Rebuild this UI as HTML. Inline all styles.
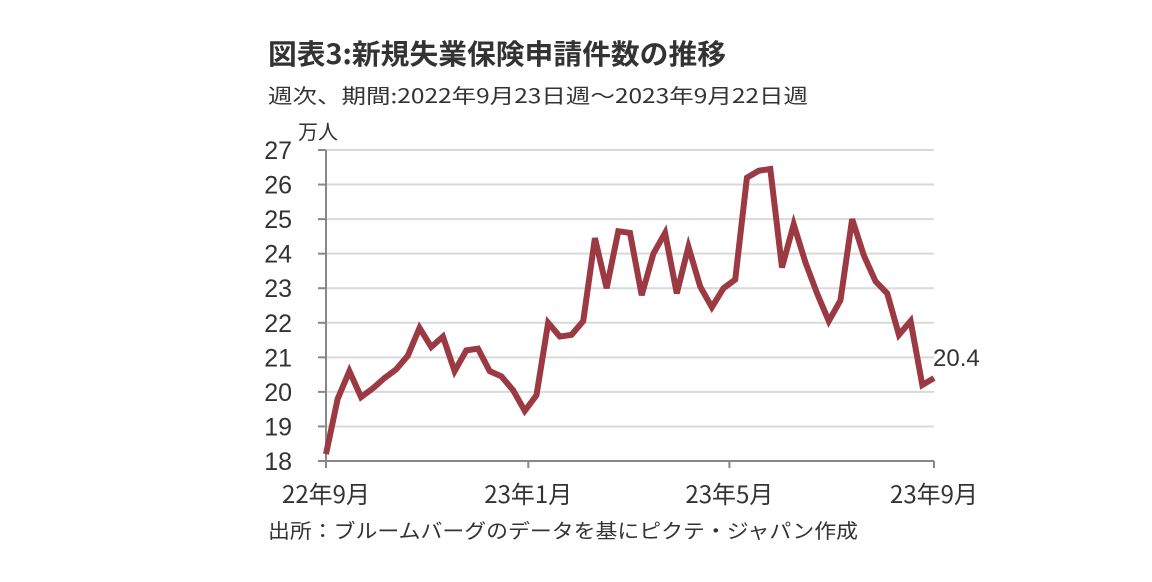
<!DOCTYPE html>
<html><head><meta charset="utf-8"><style>
body{margin:0;background:#fff;width:1152px;height:577px;overflow:hidden}
svg text{font-family:"Liberation Sans Narrow","Liberation Sans","Noto Sans CJK JP",sans-serif;fill:#333}
</style></head><body>
<svg width="1152" height="577" id="c">
<text x="268" y="64" font-size="28" font-weight="bold" textLength="458" lengthAdjust="spacingAndGlyphs" style="font-family:'Noto Sans CJK JP',sans-serif">図表3:新規失業保険申請件数の推移</text>
<text x="268" y="103" font-size="20" textLength="540" lengthAdjust="spacingAndGlyphs" style="font-family:'Noto Sans CJK JP',sans-serif">週次、期間:2022年9月23日週～2023年9月22日週</text>
<text x="298" y="139" font-size="20" style="font-family:'Noto Sans CJK JP',sans-serif">万人</text>
<g id="grid"></g><g id="yl"></g><g id="xl"></g>
<line x1="326" y1="150" x2="326" y2="468" stroke="#888" stroke-width="2"/>
<line x1="318" y1="461" x2="934" y2="461" stroke="#888" stroke-width="2"/>
<polyline id="line" fill="none" stroke="#9b3a42" stroke-width="6" stroke-linejoin="miter"/>
<text id="lastlbl" font-size="24"></text>
<text x="268" y="538" font-size="20" textLength="590" lengthAdjust="spacingAndGlyphs" style="font-family:'Noto Sans CJK JP',sans-serif">出所：ブルームバーグのデータを基にピクテ・ジャパン作成</text>
</svg>
<script>
const values=[18.2,19.8,20.6,19.85,20.1,20.4,20.65,21.05,21.85,21.3,21.6,20.6,21.2,21.25,20.6,20.45,20.05,19.45,19.9,22.0,21.6,21.65,22.05,24.45,23.0,24.65,24.6,22.8,24.0,24.6,22.85,24.2,23.05,22.45,23.0,23.25,26.2,26.4,26.45,23.6,24.85,23.75,22.85,22.05,22.65,25.0,23.95,23.2,22.85,21.65,22.05,20.2,20.4];
const yTicks=[18,19,20,21,22,23,24,25,26,27];
const xTickLabels=["22年9月","23年1月","23年5月","23年9月"];
const xTickIdx=[0,17.3,34.5,52];
const lastLabel="20.4";
const NS="http://www.w3.org/2000/svg";
const x0=326,x1=934,yTop=150,yBot=461;
const X=i=>x0+(x1-x0)*i/(values.length-1);
const Y=v=>yBot-(v-18)/(27-18)*(yBot-yTop);
const mk=(t,a,p)=>{const e=document.createElementNS(NS,t);for(const k in a)e.setAttribute(k,a[k]);p.appendChild(e);return e;};
const g=document.getElementById('grid'),yl=document.getElementById('yl'),xl=document.getElementById('xl');
yTicks.forEach(v=>{
 if(v>18){const l=mk('line',{x1:326,x2:934,y1:Y(v),y2:Y(v),stroke:'#d9d9d9','stroke-width':2},g);
 
 }
 const t=mk('line',{x1:318,x2:326,y1:Y(v),y2:Y(v),stroke:'#888','stroke-width':2},g);
 
 
 const tx=mk('text',{x:292,y:Y(v)+9,'font-size':25,'text-anchor':'end'},yl);tx.textContent=v;
 
 
});
xTickIdx.forEach((i,k)=>{
 const t=mk('line',{x1:X(i),x2:X(i),y1:461,y2:468,stroke:'#888','stroke-width':2},g);
 
 
 const tx=mk('text',{x:X(i),y:503,'font-size':24,'text-anchor':'middle',style:"font-family:'Liberation Sans Narrow','Noto Sans CJK JP',sans-serif"},xl);tx.textContent=xTickLabels[k];
 
 
});
document.getElementById('line').setAttribute('points',values.map((v,i)=>X(i)+','+Y(v)).join(' '));
const ll=document.getElementById('lastlbl');ll.textContent=lastLabel;
ll.setAttribute('x',933);ll.setAttribute('y',Y(values[values.length-1])-12);
</script>
</body></html>
